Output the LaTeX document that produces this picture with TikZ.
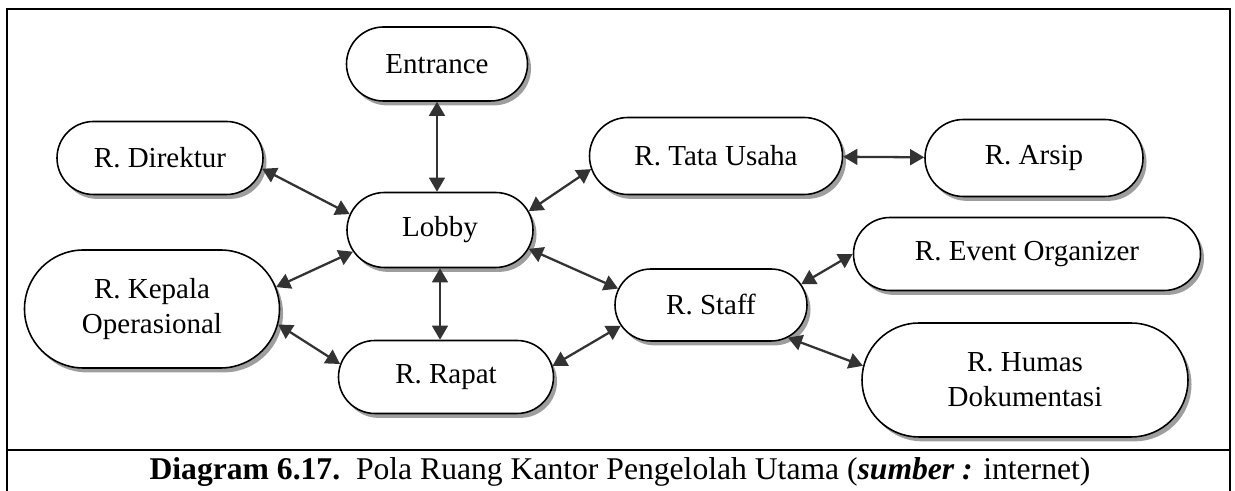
\documentclass[tikz,border=0pt]{standalone}
\usepackage{fontspec}
\setmainfont{Liberation Serif}
\usetikzlibrary{shapes.misc,shadows,arrows.meta}

\begin{document}
\begin{tikzpicture}[
  room/.style={rounded rectangle, draw, line width=0.9pt, fill=white, align=center,
    inner sep=0pt, font=\fontsize{16.5}{20}\selectfont,
    drop shadow={shadow xshift=2pt, shadow yshift=-2.5pt, fill=black!38, opacity=1}},
  link/.style={draw=black!80, line width=1.3pt,
    {Triangle[length=8pt,width=9pt]}-{Triangle[length=8pt,width=9pt]}}
]
\useasboundingbox (0,0) rectangle (24.7,9.82);
%\draw[gray] (0,0) grid (24,9);
\draw[line width=1pt] (0.14,0) -- (0.14,9.64) -- (24.6,9.64) -- (24.6,0);
\draw[line width=1pt] (0.14,0.82) -- (24.6,0.82);

\node[room, minimum width=3.62cm, minimum height=1.48cm] (ent) at (8.74,8.54) {Entrance};
\node[room, minimum width=3.72cm, minimum height=1.50cm] (lob) at (8.80,5.22) {Lobby};
\node[room, minimum width=4.12cm, minimum height=1.46cm] (dir) at (3.20,6.66) {R. Direktur};
\node[room, minimum width=5.06cm, minimum height=1.54cm] (tat) at (14.32,6.70) {R. Tata Usaha};
\node[room, minimum width=4.36cm, minimum height=1.54cm] (ars) at (20.68,6.66) {R. Arsip};
\node[room, minimum width=5.10cm, minimum height=2.36cm] (kep) at (3.04,3.64) {R. Kepala\\Operasional};
\node[room, minimum width=4.30cm, minimum height=1.46cm] (rap) at (8.92,2.28) {R. Rapat};
\node[room, minimum width=3.84cm, minimum height=1.44cm] (sta) at (14.22,3.72) {R. Staff};
\node[room, minimum width=6.94cm, minimum height=1.46cm] (evt) at (20.54,4.74) {R. Event Organizer};
\node[room, minimum width=6.52cm, minimum height=2.28cm] (hum) at (20.50,2.22) {R. Humas\\Dokumentasi};

\draw[link] (ent.south) -- (ent.south |- lob.north);
\draw[link] (dir.-6) -- (lob.170);
\draw[link] (lob.12) -- (tat.186);
\draw[link] (tat) -- (ars);
\draw[link] (lob.194) -- (kep.10);
\draw[link] (kep.-7) -- (rap.173);
\draw[link] (lob.south) -- (lob.south |- rap.north);
\draw[link] (lob.-12) -- (sta.170);
\draw[link] (rap.6) -- (sta.193);
\draw[link] (sta.13) -- (evt.180);
\draw[link] (sta.-23) -- (hum.175);

\node[font=\fontsize{18}{21}\selectfont] (cap) at (12.4,0.38)
  {\textbf{Diagram 6.17.}\ \ Pola Ruang Kantor Pengelolah Utama (\textbf{\textit{sumber :}} internet)};
\end{tikzpicture}
\end{document}
